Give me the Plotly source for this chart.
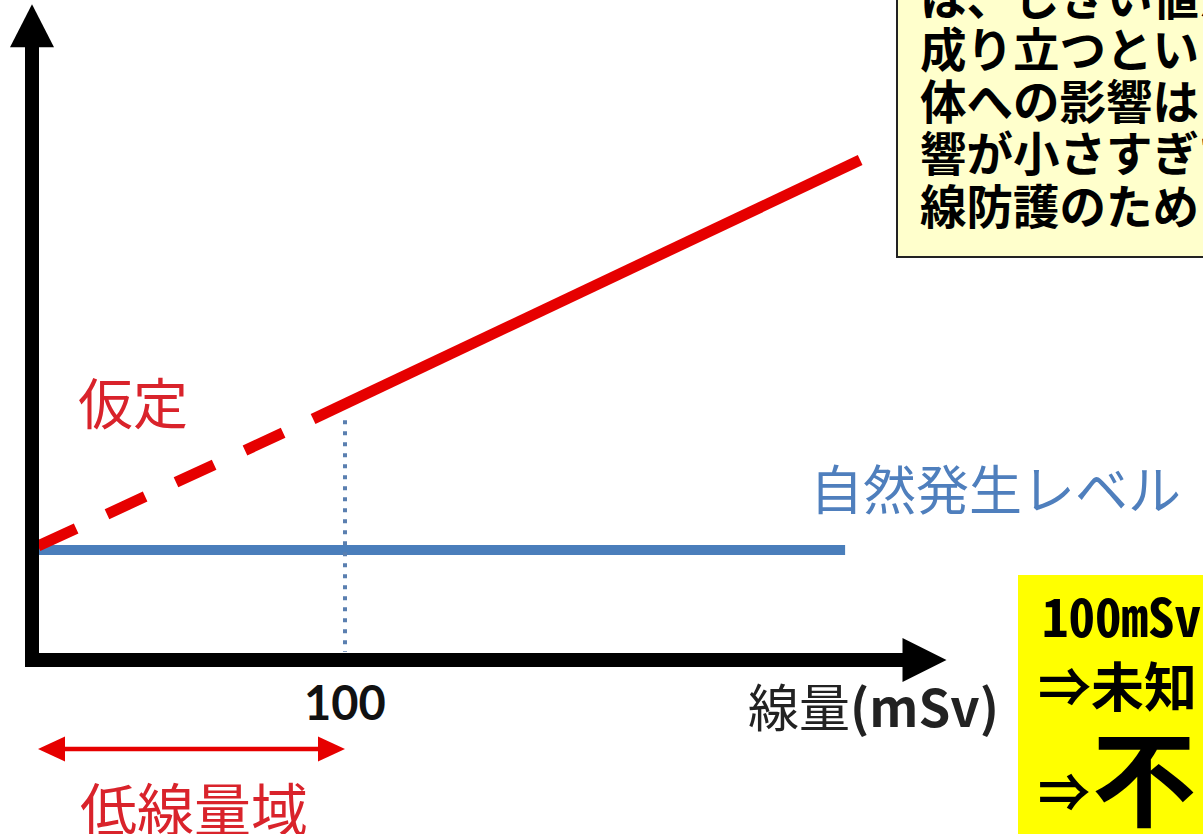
import plotly.graph_objects as go

# ---------------- data (dose in mSv, risk in arbitrary units) ----------------
natural_dose = [0, 262.9]
natural_risk = [1.0, 1.0]

assumed_dose = [0, 89.6]          # dashed (assumption, low-dose region)
assumed_risk = [1.036, 2.191]

observed_dose = [89.6, 267.8]     # solid
observed_risk = [2.191, 4.545]

threshold_dose = [100, 100]       # dotted vertical at 100 mSv
threshold_risk = [2.18, 0.073]

low_dose_range = [0, 100]         # 低線量域 arrow
tick_values = [100]
tick_labels = ["100"]

top_box_lines = ["は、しきい値が", "成り立つという", "体への影響は", "響が小さすぎて", "線防護のため"]
yellow_line1 = "100mSv"
yellow_line2 = "⇒未知"
yellow_line3a = "⇒"
yellow_line3b = "不"

# ---------------- canvas mapping ----------------
W, H = 1203, 834
X0_PX, PX_PER_MSV = 38, 3.07
Y0_PX, PX_PER_UNIT = 660, 110.0
x_range = [-X0_PX / PX_PER_MSV, (W - X0_PX) / PX_PER_MSV]
y_range = [(Y0_PX - H) / PX_PER_UNIT, Y0_PX / PX_PER_UNIT]
DX = 1 / PX_PER_MSV    # one pixel in dose units
DY = 1 / PX_PER_UNIT   # one pixel in risk units


def P(x, y):
    return x / W, 1 - y / H


RED = "#e60000"
TXT_RED = "#d9232b"
BLUE = "#4a7ebb"
JP = "Noto Sans CJK JP"

fig = go.Figure()

# natural level
fig.add_trace(go.Scatter(x=natural_dose, y=natural_risk, mode="lines",
                         line=dict(color=BLUE, width=10)))
# threshold dotted
fig.add_trace(go.Scatter(x=threshold_dose, y=threshold_risk, mode="lines",
                         line=dict(color="#5a7fb0", width=4, dash="4px,7px")))
# assumption (dashed)
fig.add_trace(go.Scatter(x=assumed_dose, y=assumed_risk, mode="lines",
                         line=dict(color=RED, width=11, dash="42px,34px")))
# observed (solid)
fig.add_trace(go.Scatter(x=observed_dose, y=observed_risk, mode="lines",
                         line=dict(color=RED, width=11)))

# axes (L shape) with arrowheads
ax_x = -6 * DX
fig.add_trace(go.Scatter(x=[ax_x, ax_x, 281.8], y=[5.58, 0, 0], mode="lines",
                         line=dict(color="black", width=14)))
fig.add_trace(go.Scatter(x=[ax_x - 22 * DX, ax_x, ax_x + 22 * DX, ax_x - 22 * DX],
                         y=[5.57, 5.57 + 43 * DY, 5.57, 5.57], mode="lines", fill="toself",
                         fillcolor="black", line=dict(color="black", width=0)))
fig.add_trace(go.Scatter(x=[281.6, 281.6 + 44 * DX, 281.6, 281.6],
                         y=[22 * DY, 0, -22 * DY, 22 * DY], mode="lines", fill="toself",
                         fillcolor="black", line=dict(color="black", width=0)))

# low-dose range double arrow
ar_y = (Y0_PX - 749) / PX_PER_UNIT
hl, hh = 27 * DX, 12.5 * DY
a0, a1 = low_dose_range
fig.add_trace(go.Scatter(x=[a0 + hl, a1 - hl], y=[ar_y, ar_y], mode="lines",
                         line=dict(color=RED, width=4.5)))
fig.add_trace(go.Scatter(x=[a0, a0 + hl, a0 + hl, a0], y=[ar_y, ar_y + hh, ar_y - hh, ar_y],
                         mode="lines", fill="toself", fillcolor=RED, line=dict(color=RED, width=0)))
fig.add_trace(go.Scatter(x=[a1, a1 - hl, a1 - hl, a1], y=[ar_y, ar_y + hh, ar_y - hh, ar_y],
                         mode="lines", fill="toself", fillcolor=RED, line=dict(color=RED, width=0)))

annotations = []
# tick label "100"
for tv, tl in zip(tick_values, tick_labels):
    annotations.append(dict(x=tv, y=(Y0_PX - 702) / PX_PER_UNIT, xref="x", yref="y",
                            text="<b>%s</b>" % tl, showarrow=False, xanchor="center", yanchor="middle",
                            font=dict(family="Lato", size=47, color="#111111")))

def txt(x, y, text, size, color="black", family=JP, xanchor="left"):
    px, py = P(x, y)
    annotations.append(dict(x=px, y=py, xref="paper", yref="paper", text=text, showarrow=False,
                            xanchor=xanchor, yanchor="middle", font=dict(family=family, size=size, color=color)))

txt(76, 400, "仮定", 55, TXT_RED)
txt(78, 806, "低線量域", 57, TXT_RED)
txt(808, 487, "自然発生レベル", 53, "#4f7fbd")
txt(746, 705, "線量<b>(mSv)</b>", 51, "#222222")

# top-right explanation box
shapes = []
bx0, by0 = P(897, -10)
bx1, by1 = P(1220, 257)
shapes.append(dict(type="rect", xref="paper", yref="paper", x0=bx0, x1=bx1, y0=by1, y1=by0,
                   fillcolor="#ffffcc", line=dict(color="#222222", width=2), layer="above"))
for i, line in enumerate(top_box_lines):
    txt(918, -6 + 52.3 * i, "<b>%s</b>" % line, 46.5, "black")

# bottom-right yellow box
yx0, yy0 = P(1018, 575)
yx1, yy1 = P(1220, 850)
shapes.append(dict(type="rect", xref="paper", yref="paper", x0=yx0, x1=yx1, y0=yy1, y1=yy0,
                   fillcolor="#ffff00", line=dict(width=0), layer="above"))
txt(1040, 614, "<b>%s</b>" % yellow_line1, 53, "black",
    family="Noto Sans Mono CJK JP, Liberation Mono, DejaVu Sans Mono, monospace")
txt(1036, 684, "<b>%s</b>" % yellow_line2, 53, "black")
txt(1036, 789, "<b>%s</b>" % yellow_line3a, 52, "black")
txt(1090, 773, "<b>%s</b>" % yellow_line3b, 104, "black")

fig.update_layout(
    width=W, height=H, margin=dict(l=0, r=0, t=0, b=0),
    paper_bgcolor="white", plot_bgcolor="white", showlegend=False,
    xaxis=dict(range=x_range, visible=False, fixedrange=True),
    yaxis=dict(range=y_range, visible=False, fixedrange=True),
    annotations=annotations, shapes=shapes, hovermode=False,
)
fig.write_html("out.html", config={"displayModeBar": False},
               post_script="document.body.style.margin='0';document.body.style.overflow='hidden';")
